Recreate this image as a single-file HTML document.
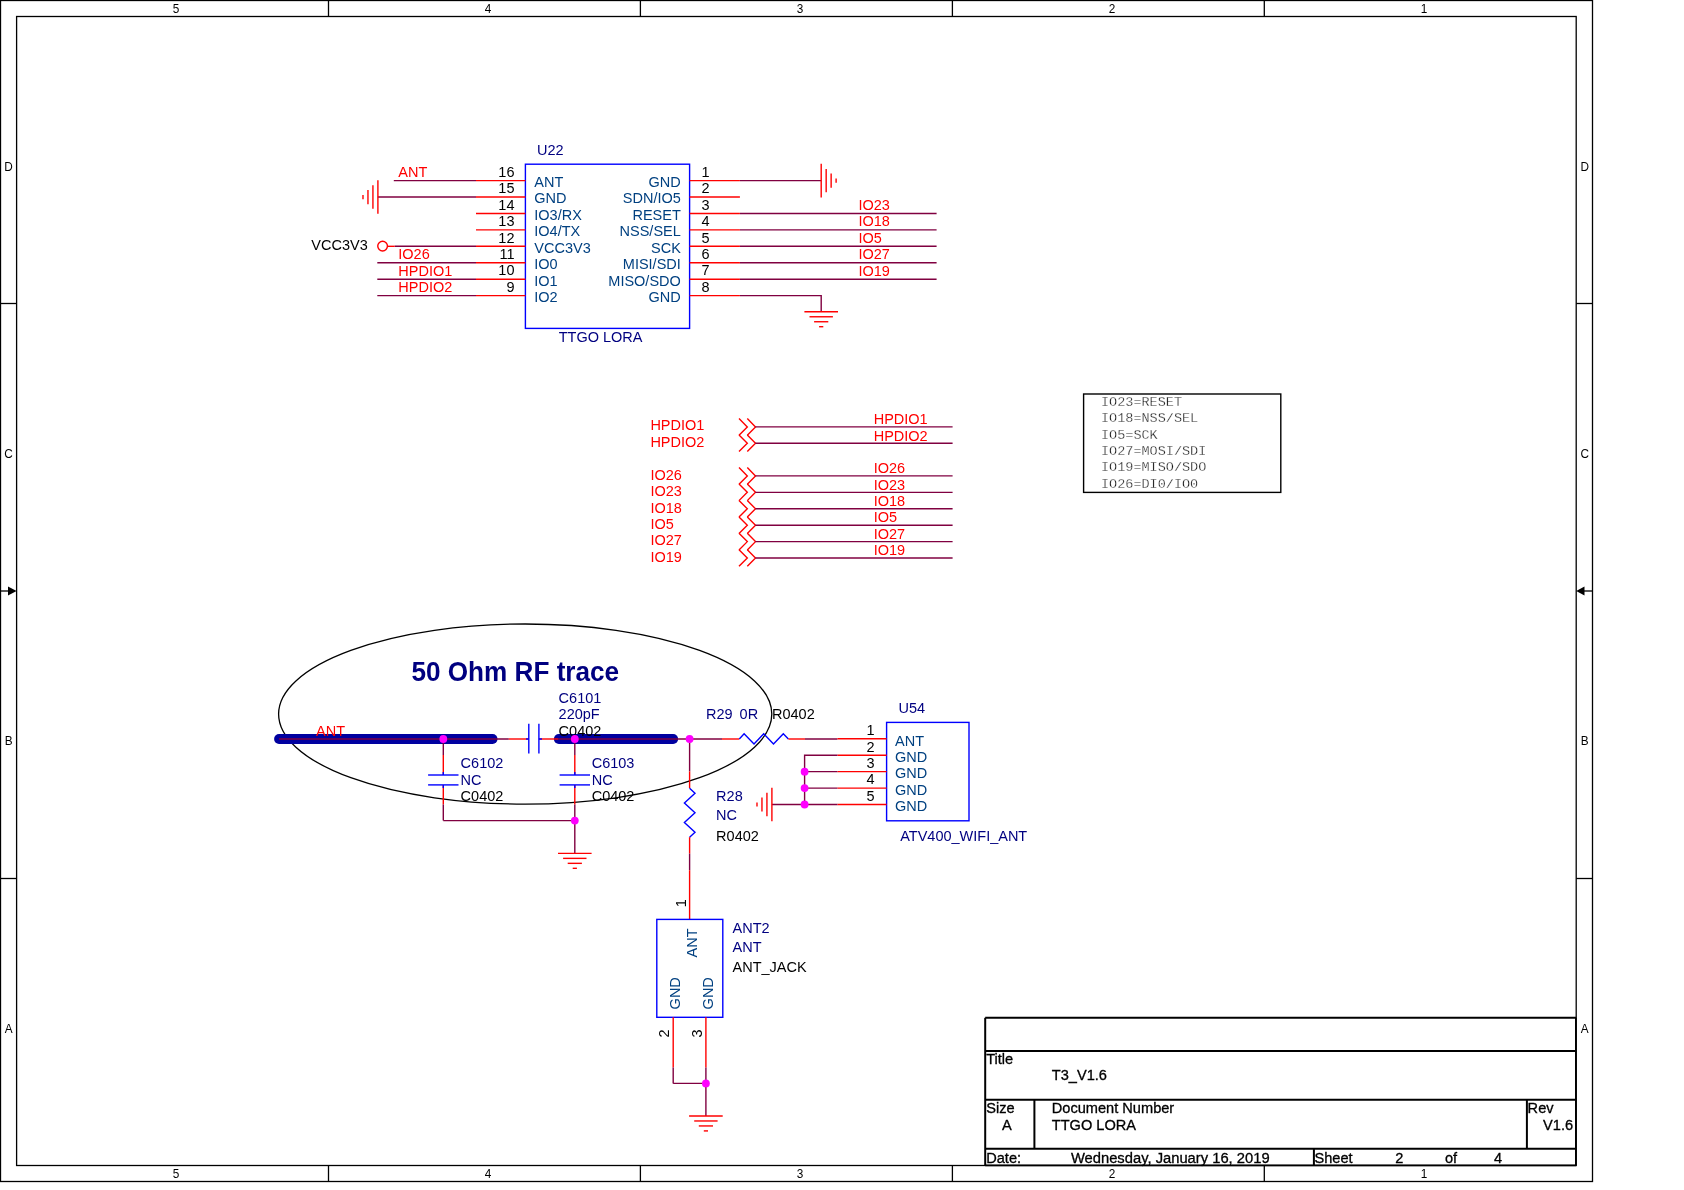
<!DOCTYPE html>
<html><head><meta charset="utf-8"><title>T3_V1.6 schematic</title>
<style>
html,body{margin:0;padding:0;background:#fff;width:1684px;height:1190px;overflow:hidden}
svg{display:block;will-change:transform}
</style></head><body>
<svg width="1684" height="1190" viewBox="0 0 1684 1190">
<rect x="0" y="0" width="1684" height="1190" fill="#fff"/>
<rect x="0.5" y="0.5" width="1592" height="1181" stroke="#000" stroke-width="1.3" fill="none"/>
<rect x="16.6" y="16.5" width="1559.6" height="1149" stroke="#000" stroke-width="1.3" fill="none"/>
<line x1="328.50" y1="0.00" x2="328.50" y2="16.50" stroke="#000000" stroke-width="1.3"/>
<line x1="328.50" y1="1165.50" x2="328.50" y2="1181.50" stroke="#000000" stroke-width="1.3"/>
<line x1="640.40" y1="0.00" x2="640.40" y2="16.50" stroke="#000000" stroke-width="1.3"/>
<line x1="640.40" y1="1165.50" x2="640.40" y2="1181.50" stroke="#000000" stroke-width="1.3"/>
<line x1="952.40" y1="0.00" x2="952.40" y2="16.50" stroke="#000000" stroke-width="1.3"/>
<line x1="952.40" y1="1165.50" x2="952.40" y2="1181.50" stroke="#000000" stroke-width="1.3"/>
<line x1="1264.30" y1="0.00" x2="1264.30" y2="16.50" stroke="#000000" stroke-width="1.3"/>
<line x1="1264.30" y1="1165.50" x2="1264.30" y2="1181.50" stroke="#000000" stroke-width="1.3"/>
<line x1="0.00" y1="303.50" x2="16.60" y2="303.50" stroke="#000000" stroke-width="1.3"/>
<line x1="1576.20" y1="303.50" x2="1592.50" y2="303.50" stroke="#000000" stroke-width="1.3"/>
<line x1="0.00" y1="878.50" x2="16.60" y2="878.50" stroke="#000000" stroke-width="1.3"/>
<line x1="1576.20" y1="878.50" x2="1592.50" y2="878.50" stroke="#000000" stroke-width="1.3"/>
<line x1="0.00" y1="591.00" x2="9.00" y2="591.00" stroke="#000000" stroke-width="1.3"/>
<polygon points="8,586.5 16.6,591 8,595.5" fill="#000"/>
<line x1="1584.00" y1="591.00" x2="1592.50" y2="591.00" stroke="#000000" stroke-width="1.3"/>
<polygon points="1584.5,586.5 1576.2,591 1584.5,595.5" fill="#000"/>
<text transform="translate(176.00,12.80) scale(1,1.06)" fill="#000000" font-size="11.8" text-anchor="middle" style='font-family:"Liberation Sans", sans-serif'>5</text>
<text transform="translate(176.00,1177.80) scale(1,1.06)" fill="#000000" font-size="11.8" text-anchor="middle" style='font-family:"Liberation Sans", sans-serif'>5</text>
<text transform="translate(488.00,12.80) scale(1,1.06)" fill="#000000" font-size="11.8" text-anchor="middle" style='font-family:"Liberation Sans", sans-serif'>4</text>
<text transform="translate(488.00,1177.80) scale(1,1.06)" fill="#000000" font-size="11.8" text-anchor="middle" style='font-family:"Liberation Sans", sans-serif'>4</text>
<text transform="translate(800.00,12.80) scale(1,1.06)" fill="#000000" font-size="11.8" text-anchor="middle" style='font-family:"Liberation Sans", sans-serif'>3</text>
<text transform="translate(800.00,1177.80) scale(1,1.06)" fill="#000000" font-size="11.8" text-anchor="middle" style='font-family:"Liberation Sans", sans-serif'>3</text>
<text transform="translate(1112.00,12.80) scale(1,1.06)" fill="#000000" font-size="11.8" text-anchor="middle" style='font-family:"Liberation Sans", sans-serif'>2</text>
<text transform="translate(1112.00,1177.80) scale(1,1.06)" fill="#000000" font-size="11.8" text-anchor="middle" style='font-family:"Liberation Sans", sans-serif'>2</text>
<text transform="translate(1424.00,12.80) scale(1,1.06)" fill="#000000" font-size="11.8" text-anchor="middle" style='font-family:"Liberation Sans", sans-serif'>1</text>
<text transform="translate(1424.00,1177.80) scale(1,1.06)" fill="#000000" font-size="11.8" text-anchor="middle" style='font-family:"Liberation Sans", sans-serif'>1</text>
<text transform="translate(8.60,170.80) scale(1,1.06)" fill="#000000" font-size="11.8" text-anchor="middle" style='font-family:"Liberation Sans", sans-serif'>D</text>
<text transform="translate(1584.80,170.80) scale(1,1.06)" fill="#000000" font-size="11.8" text-anchor="middle" style='font-family:"Liberation Sans", sans-serif'>D</text>
<text transform="translate(8.60,457.60) scale(1,1.06)" fill="#000000" font-size="11.8" text-anchor="middle" style='font-family:"Liberation Sans", sans-serif'>C</text>
<text transform="translate(1584.80,457.60) scale(1,1.06)" fill="#000000" font-size="11.8" text-anchor="middle" style='font-family:"Liberation Sans", sans-serif'>C</text>
<text transform="translate(8.60,744.80) scale(1,1.06)" fill="#000000" font-size="11.8" text-anchor="middle" style='font-family:"Liberation Sans", sans-serif'>B</text>
<text transform="translate(1584.80,744.80) scale(1,1.06)" fill="#000000" font-size="11.8" text-anchor="middle" style='font-family:"Liberation Sans", sans-serif'>B</text>
<text transform="translate(8.60,1032.80) scale(1,1.06)" fill="#000000" font-size="11.8" text-anchor="middle" style='font-family:"Liberation Sans", sans-serif'>A</text>
<text transform="translate(1584.80,1032.80) scale(1,1.06)" fill="#000000" font-size="11.8" text-anchor="middle" style='font-family:"Liberation Sans", sans-serif'>A</text>
<rect x="525.40" y="164.20" width="164.20" height="164.20" stroke="#0000ff" stroke-width="1.4" fill="none"/>
<text transform="translate(537.00,155.10) scale(1,1.06)" fill="#000080" font-size="14.5" text-anchor="start" style='font-family:"Liberation Sans", sans-serif'>U22</text>
<text transform="translate(558.70,341.60) scale(1,1.06)" fill="#000080" font-size="14.5" text-anchor="start" style='font-family:"Liberation Sans", sans-serif'>TTGO LORA</text>
<line x1="476.00" y1="180.60" x2="525.40" y2="180.60" stroke="#ff0000" stroke-width="1.4"/>
<line x1="689.60" y1="180.60" x2="739.90" y2="180.60" stroke="#ff0000" stroke-width="1.4"/>
<text transform="translate(514.50,176.80) scale(1,1.06)" fill="#000000" font-size="14.5" text-anchor="end" style='font-family:"Liberation Sans", sans-serif'>16</text>
<text transform="translate(701.50,176.80) scale(1,1.06)" fill="#000000" font-size="14.5" text-anchor="start" style='font-family:"Liberation Sans", sans-serif'>1</text>
<text transform="translate(534.30,187.00) scale(1,1.06)" fill="#004080" font-size="14.5" text-anchor="start" style='font-family:"Liberation Sans", sans-serif'>ANT</text>
<text transform="translate(680.80,187.00) scale(1,1.06)" fill="#004080" font-size="14.5" text-anchor="end" style='font-family:"Liberation Sans", sans-serif'>GND</text>
<line x1="476.00" y1="197.03" x2="525.40" y2="197.03" stroke="#ff0000" stroke-width="1.4"/>
<line x1="689.60" y1="197.03" x2="739.90" y2="197.03" stroke="#ff0000" stroke-width="1.4"/>
<text transform="translate(514.50,193.23) scale(1,1.06)" fill="#000000" font-size="14.5" text-anchor="end" style='font-family:"Liberation Sans", sans-serif'>15</text>
<text transform="translate(701.50,193.23) scale(1,1.06)" fill="#000000" font-size="14.5" text-anchor="start" style='font-family:"Liberation Sans", sans-serif'>2</text>
<text transform="translate(534.30,203.43) scale(1,1.06)" fill="#004080" font-size="14.5" text-anchor="start" style='font-family:"Liberation Sans", sans-serif'>GND</text>
<text transform="translate(680.80,203.43) scale(1,1.06)" fill="#004080" font-size="14.5" text-anchor="end" style='font-family:"Liberation Sans", sans-serif'>SDN/IO5</text>
<line x1="476.00" y1="213.46" x2="525.40" y2="213.46" stroke="#ff0000" stroke-width="1.4"/>
<line x1="689.60" y1="213.46" x2="739.90" y2="213.46" stroke="#ff0000" stroke-width="1.4"/>
<text transform="translate(514.50,209.66) scale(1,1.06)" fill="#000000" font-size="14.5" text-anchor="end" style='font-family:"Liberation Sans", sans-serif'>14</text>
<text transform="translate(701.50,209.66) scale(1,1.06)" fill="#000000" font-size="14.5" text-anchor="start" style='font-family:"Liberation Sans", sans-serif'>3</text>
<text transform="translate(534.30,219.86) scale(1,1.06)" fill="#004080" font-size="14.5" text-anchor="start" style='font-family:"Liberation Sans", sans-serif'>IO3/RX</text>
<text transform="translate(680.80,219.86) scale(1,1.06)" fill="#004080" font-size="14.5" text-anchor="end" style='font-family:"Liberation Sans", sans-serif'>RESET</text>
<line x1="476.00" y1="229.89" x2="525.40" y2="229.89" stroke="#ff0000" stroke-width="1.4"/>
<line x1="689.60" y1="229.89" x2="739.90" y2="229.89" stroke="#ff0000" stroke-width="1.4"/>
<text transform="translate(514.50,226.09) scale(1,1.06)" fill="#000000" font-size="14.5" text-anchor="end" style='font-family:"Liberation Sans", sans-serif'>13</text>
<text transform="translate(701.50,226.09) scale(1,1.06)" fill="#000000" font-size="14.5" text-anchor="start" style='font-family:"Liberation Sans", sans-serif'>4</text>
<text transform="translate(534.30,236.29) scale(1,1.06)" fill="#004080" font-size="14.5" text-anchor="start" style='font-family:"Liberation Sans", sans-serif'>IO4/TX</text>
<text transform="translate(680.80,236.29) scale(1,1.06)" fill="#004080" font-size="14.5" text-anchor="end" style='font-family:"Liberation Sans", sans-serif'>NSS/SEL</text>
<line x1="476.00" y1="246.32" x2="525.40" y2="246.32" stroke="#ff0000" stroke-width="1.4"/>
<line x1="689.60" y1="246.32" x2="739.90" y2="246.32" stroke="#ff0000" stroke-width="1.4"/>
<text transform="translate(514.50,242.52) scale(1,1.06)" fill="#000000" font-size="14.5" text-anchor="end" style='font-family:"Liberation Sans", sans-serif'>12</text>
<text transform="translate(701.50,242.52) scale(1,1.06)" fill="#000000" font-size="14.5" text-anchor="start" style='font-family:"Liberation Sans", sans-serif'>5</text>
<text transform="translate(534.30,252.72) scale(1,1.06)" fill="#004080" font-size="14.5" text-anchor="start" style='font-family:"Liberation Sans", sans-serif'>VCC3V3</text>
<text transform="translate(680.80,252.72) scale(1,1.06)" fill="#004080" font-size="14.5" text-anchor="end" style='font-family:"Liberation Sans", sans-serif'>SCK</text>
<line x1="476.00" y1="262.75" x2="525.40" y2="262.75" stroke="#ff0000" stroke-width="1.4"/>
<line x1="689.60" y1="262.75" x2="739.90" y2="262.75" stroke="#ff0000" stroke-width="1.4"/>
<text transform="translate(514.50,258.95) scale(1,1.06)" fill="#000000" font-size="14.5" text-anchor="end" style='font-family:"Liberation Sans", sans-serif'>11</text>
<text transform="translate(701.50,258.95) scale(1,1.06)" fill="#000000" font-size="14.5" text-anchor="start" style='font-family:"Liberation Sans", sans-serif'>6</text>
<text transform="translate(534.30,269.15) scale(1,1.06)" fill="#004080" font-size="14.5" text-anchor="start" style='font-family:"Liberation Sans", sans-serif'>IO0</text>
<text transform="translate(680.80,269.15) scale(1,1.06)" fill="#004080" font-size="14.5" text-anchor="end" style='font-family:"Liberation Sans", sans-serif'>MISI/SDI</text>
<line x1="476.00" y1="279.18" x2="525.40" y2="279.18" stroke="#ff0000" stroke-width="1.4"/>
<line x1="689.60" y1="279.18" x2="739.90" y2="279.18" stroke="#ff0000" stroke-width="1.4"/>
<text transform="translate(514.50,275.38) scale(1,1.06)" fill="#000000" font-size="14.5" text-anchor="end" style='font-family:"Liberation Sans", sans-serif'>10</text>
<text transform="translate(701.50,275.38) scale(1,1.06)" fill="#000000" font-size="14.5" text-anchor="start" style='font-family:"Liberation Sans", sans-serif'>7</text>
<text transform="translate(534.30,285.58) scale(1,1.06)" fill="#004080" font-size="14.5" text-anchor="start" style='font-family:"Liberation Sans", sans-serif'>IO1</text>
<text transform="translate(680.80,285.58) scale(1,1.06)" fill="#004080" font-size="14.5" text-anchor="end" style='font-family:"Liberation Sans", sans-serif'>MISO/SDO</text>
<line x1="476.00" y1="295.61" x2="525.40" y2="295.61" stroke="#ff0000" stroke-width="1.4"/>
<line x1="689.60" y1="295.61" x2="739.90" y2="295.61" stroke="#ff0000" stroke-width="1.4"/>
<text transform="translate(514.50,291.81) scale(1,1.06)" fill="#000000" font-size="14.5" text-anchor="end" style='font-family:"Liberation Sans", sans-serif'>9</text>
<text transform="translate(701.50,291.81) scale(1,1.06)" fill="#000000" font-size="14.5" text-anchor="start" style='font-family:"Liberation Sans", sans-serif'>8</text>
<text transform="translate(534.30,302.01) scale(1,1.06)" fill="#004080" font-size="14.5" text-anchor="start" style='font-family:"Liberation Sans", sans-serif'>IO2</text>
<text transform="translate(680.80,302.01) scale(1,1.06)" fill="#004080" font-size="14.5" text-anchor="end" style='font-family:"Liberation Sans", sans-serif'>GND</text>
<line x1="393.80" y1="180.60" x2="476.00" y2="180.60" stroke="#800040" stroke-width="1.4"/>
<text transform="translate(398.30,177.40) scale(1,1.06)" fill="#ff0000" font-size="14.5" text-anchor="start" style='font-family:"Liberation Sans", sans-serif'>ANT</text>
<line x1="377.80" y1="197.03" x2="476.00" y2="197.03" stroke="#800040" stroke-width="1.4"/>
<line x1="377.90" y1="180.23" x2="377.90" y2="213.83" stroke="#ff0000" stroke-width="1.4"/>
<line x1="372.93" y1="185.33" x2="372.93" y2="208.73" stroke="#ff0000" stroke-width="1.4"/>
<line x1="367.96" y1="189.93" x2="367.96" y2="204.13" stroke="#ff0000" stroke-width="1.4"/>
<line x1="362.99" y1="194.93" x2="362.99" y2="199.13" stroke="#ff0000" stroke-width="1.4"/>
<line x1="394.80" y1="246.32" x2="476.00" y2="246.32" stroke="#800040" stroke-width="1.4"/>
<line x1="387.40" y1="246.32" x2="394.80" y2="246.32" stroke="#ff0000" stroke-width="1.4"/>
<circle cx="382.6" cy="246.1" r="4.85" stroke="#ff0000" stroke-width="1.4" fill="none"/>
<text transform="translate(311.30,250.40) scale(1,1.06)" fill="#000000" font-size="14.5" text-anchor="start" style='font-family:"Liberation Sans", sans-serif'>VCC3V3</text>
<line x1="377.30" y1="262.75" x2="476.00" y2="262.75" stroke="#800040" stroke-width="1.4"/>
<text transform="translate(398.30,259.35) scale(1,1.06)" fill="#ff0000" font-size="14.5" text-anchor="start" style='font-family:"Liberation Sans", sans-serif'>IO26</text>
<line x1="377.30" y1="279.18" x2="476.00" y2="279.18" stroke="#800040" stroke-width="1.4"/>
<text transform="translate(398.30,275.78) scale(1,1.06)" fill="#ff0000" font-size="14.5" text-anchor="start" style='font-family:"Liberation Sans", sans-serif'>HPDIO1</text>
<line x1="377.30" y1="295.61" x2="476.00" y2="295.61" stroke="#800040" stroke-width="1.4"/>
<text transform="translate(398.30,292.21) scale(1,1.06)" fill="#ff0000" font-size="14.5" text-anchor="start" style='font-family:"Liberation Sans", sans-serif'>HPDIO2</text>
<line x1="739.90" y1="180.60" x2="821.20" y2="180.60" stroke="#800040" stroke-width="1.4"/>
<line x1="821.20" y1="163.80" x2="821.20" y2="197.40" stroke="#ff0000" stroke-width="1.4"/>
<line x1="826.17" y1="168.90" x2="826.17" y2="192.30" stroke="#ff0000" stroke-width="1.4"/>
<line x1="831.14" y1="173.50" x2="831.14" y2="187.70" stroke="#ff0000" stroke-width="1.4"/>
<line x1="836.11" y1="178.50" x2="836.11" y2="182.70" stroke="#ff0000" stroke-width="1.4"/>
<line x1="739.90" y1="213.46" x2="936.60" y2="213.46" stroke="#800040" stroke-width="1.4"/>
<text transform="translate(858.50,209.86) scale(1,1.06)" fill="#ff0000" font-size="14.5" text-anchor="start" style='font-family:"Liberation Sans", sans-serif'>IO23</text>
<line x1="739.90" y1="229.89" x2="936.60" y2="229.89" stroke="#800040" stroke-width="1.4"/>
<text transform="translate(858.50,226.29) scale(1,1.06)" fill="#ff0000" font-size="14.5" text-anchor="start" style='font-family:"Liberation Sans", sans-serif'>IO18</text>
<line x1="739.90" y1="246.32" x2="936.60" y2="246.32" stroke="#800040" stroke-width="1.4"/>
<text transform="translate(858.50,242.72) scale(1,1.06)" fill="#ff0000" font-size="14.5" text-anchor="start" style='font-family:"Liberation Sans", sans-serif'>IO5</text>
<line x1="739.90" y1="262.75" x2="936.60" y2="262.75" stroke="#800040" stroke-width="1.4"/>
<text transform="translate(858.50,259.15) scale(1,1.06)" fill="#ff0000" font-size="14.5" text-anchor="start" style='font-family:"Liberation Sans", sans-serif'>IO27</text>
<line x1="739.90" y1="279.18" x2="936.60" y2="279.18" stroke="#800040" stroke-width="1.4"/>
<text transform="translate(858.50,275.58) scale(1,1.06)" fill="#ff0000" font-size="14.5" text-anchor="start" style='font-family:"Liberation Sans", sans-serif'>IO19</text>
<polyline points="739.90,295.61 821.20,295.61 821.20,311.80" stroke="#800040" stroke-width="1.4" fill="none"/>
<line x1="804.40" y1="311.80" x2="838.00" y2="311.80" stroke="#ff0000" stroke-width="1.4"/>
<line x1="809.50" y1="316.77" x2="832.90" y2="316.77" stroke="#ff0000" stroke-width="1.4"/>
<line x1="814.10" y1="321.74" x2="828.30" y2="321.74" stroke="#ff0000" stroke-width="1.4"/>
<line x1="819.10" y1="326.71" x2="823.30" y2="326.71" stroke="#ff0000" stroke-width="1.4"/>
<polyline points="739.00,418.60 747.30,426.90 739.00,435.20" stroke="#ff0000" stroke-width="1.4" fill="none"/>
<polyline points="747.30,418.60 755.50,426.90 747.30,435.20" stroke="#ff0000" stroke-width="1.4" fill="none"/>
<line x1="755.40" y1="426.90" x2="952.60" y2="426.90" stroke="#800040" stroke-width="1.4"/>
<text transform="translate(650.40,430.40) scale(1,1.06)" fill="#ff0000" font-size="14.5" text-anchor="start" style='font-family:"Liberation Sans", sans-serif'>HPDIO1</text>
<text transform="translate(873.70,424.20) scale(1,1.06)" fill="#ff0000" font-size="14.5" text-anchor="start" style='font-family:"Liberation Sans", sans-serif'>HPDIO1</text>
<polyline points="739.00,435.00 747.30,443.30 739.00,451.60" stroke="#ff0000" stroke-width="1.4" fill="none"/>
<polyline points="747.30,435.00 755.50,443.30 747.30,451.60" stroke="#ff0000" stroke-width="1.4" fill="none"/>
<line x1="755.40" y1="443.30" x2="952.60" y2="443.30" stroke="#800040" stroke-width="1.4"/>
<text transform="translate(650.40,446.80) scale(1,1.06)" fill="#ff0000" font-size="14.5" text-anchor="start" style='font-family:"Liberation Sans", sans-serif'>HPDIO2</text>
<text transform="translate(873.70,440.60) scale(1,1.06)" fill="#ff0000" font-size="14.5" text-anchor="start" style='font-family:"Liberation Sans", sans-serif'>HPDIO2</text>
<polyline points="739.00,467.60 747.30,475.90 739.00,484.20" stroke="#ff0000" stroke-width="1.4" fill="none"/>
<polyline points="747.30,467.60 755.50,475.90 747.30,484.20" stroke="#ff0000" stroke-width="1.4" fill="none"/>
<line x1="755.40" y1="475.90" x2="952.60" y2="475.90" stroke="#800040" stroke-width="1.4"/>
<text transform="translate(650.40,479.70) scale(1,1.06)" fill="#ff0000" font-size="14.5" text-anchor="start" style='font-family:"Liberation Sans", sans-serif'>IO26</text>
<text transform="translate(873.70,473.10) scale(1,1.06)" fill="#ff0000" font-size="14.5" text-anchor="start" style='font-family:"Liberation Sans", sans-serif'>IO26</text>
<polyline points="739.00,484.03 747.30,492.33 739.00,500.63" stroke="#ff0000" stroke-width="1.4" fill="none"/>
<polyline points="747.30,484.03 755.50,492.33 747.30,500.63" stroke="#ff0000" stroke-width="1.4" fill="none"/>
<line x1="755.40" y1="492.33" x2="952.60" y2="492.33" stroke="#800040" stroke-width="1.4"/>
<text transform="translate(650.40,496.13) scale(1,1.06)" fill="#ff0000" font-size="14.5" text-anchor="start" style='font-family:"Liberation Sans", sans-serif'>IO23</text>
<text transform="translate(873.70,489.53) scale(1,1.06)" fill="#ff0000" font-size="14.5" text-anchor="start" style='font-family:"Liberation Sans", sans-serif'>IO23</text>
<polyline points="739.00,500.46 747.30,508.76 739.00,517.06" stroke="#ff0000" stroke-width="1.4" fill="none"/>
<polyline points="747.30,500.46 755.50,508.76 747.30,517.06" stroke="#ff0000" stroke-width="1.4" fill="none"/>
<line x1="755.40" y1="508.76" x2="952.60" y2="508.76" stroke="#800040" stroke-width="1.4"/>
<text transform="translate(650.40,512.56) scale(1,1.06)" fill="#ff0000" font-size="14.5" text-anchor="start" style='font-family:"Liberation Sans", sans-serif'>IO18</text>
<text transform="translate(873.70,505.96) scale(1,1.06)" fill="#ff0000" font-size="14.5" text-anchor="start" style='font-family:"Liberation Sans", sans-serif'>IO18</text>
<polyline points="739.00,516.89 747.30,525.19 739.00,533.49" stroke="#ff0000" stroke-width="1.4" fill="none"/>
<polyline points="747.30,516.89 755.50,525.19 747.30,533.49" stroke="#ff0000" stroke-width="1.4" fill="none"/>
<line x1="755.40" y1="525.19" x2="952.60" y2="525.19" stroke="#800040" stroke-width="1.4"/>
<text transform="translate(650.40,528.99) scale(1,1.06)" fill="#ff0000" font-size="14.5" text-anchor="start" style='font-family:"Liberation Sans", sans-serif'>IO5</text>
<text transform="translate(873.70,522.39) scale(1,1.06)" fill="#ff0000" font-size="14.5" text-anchor="start" style='font-family:"Liberation Sans", sans-serif'>IO5</text>
<polyline points="739.00,533.32 747.30,541.62 739.00,549.92" stroke="#ff0000" stroke-width="1.4" fill="none"/>
<polyline points="747.30,533.32 755.50,541.62 747.30,549.92" stroke="#ff0000" stroke-width="1.4" fill="none"/>
<line x1="755.40" y1="541.62" x2="952.60" y2="541.62" stroke="#800040" stroke-width="1.4"/>
<text transform="translate(650.40,545.42) scale(1,1.06)" fill="#ff0000" font-size="14.5" text-anchor="start" style='font-family:"Liberation Sans", sans-serif'>IO27</text>
<text transform="translate(873.70,538.82) scale(1,1.06)" fill="#ff0000" font-size="14.5" text-anchor="start" style='font-family:"Liberation Sans", sans-serif'>IO27</text>
<polyline points="739.00,549.75 747.30,558.05 739.00,566.35" stroke="#ff0000" stroke-width="1.4" fill="none"/>
<polyline points="747.30,549.75 755.50,558.05 747.30,566.35" stroke="#ff0000" stroke-width="1.4" fill="none"/>
<line x1="755.40" y1="558.05" x2="952.60" y2="558.05" stroke="#800040" stroke-width="1.4"/>
<text transform="translate(650.40,561.85) scale(1,1.06)" fill="#ff0000" font-size="14.5" text-anchor="start" style='font-family:"Liberation Sans", sans-serif'>IO19</text>
<text transform="translate(873.70,555.25) scale(1,1.06)" fill="#ff0000" font-size="14.5" text-anchor="start" style='font-family:"Liberation Sans", sans-serif'>IO19</text>
<rect x="1083.60" y="394.00" width="197.20" height="98.40" stroke="#000000" stroke-width="1.4" fill="none"/>
<text transform="translate(1101.00,405.80) scale(1,1.0)" fill="#111" font-size="13.5" text-anchor="start" style='font-family:"Liberation Mono", monospace' stroke="#fff" stroke-width="0.3">IO23=RESET</text>
<text transform="translate(1101.00,422.15) scale(1,1.0)" fill="#111" font-size="13.5" text-anchor="start" style='font-family:"Liberation Mono", monospace' stroke="#fff" stroke-width="0.3">IO18=NSS/SEL</text>
<text transform="translate(1101.00,438.50) scale(1,1.0)" fill="#111" font-size="13.5" text-anchor="start" style='font-family:"Liberation Mono", monospace' stroke="#fff" stroke-width="0.3">IO5=SCK</text>
<text transform="translate(1101.00,454.85) scale(1,1.0)" fill="#111" font-size="13.5" text-anchor="start" style='font-family:"Liberation Mono", monospace' stroke="#fff" stroke-width="0.3">IO27=MOSI/SDI</text>
<text transform="translate(1101.00,471.20) scale(1,1.0)" fill="#111" font-size="13.5" text-anchor="start" style='font-family:"Liberation Mono", monospace' stroke="#fff" stroke-width="0.3">IO19=MISO/SDO</text>
<text transform="translate(1101.00,487.55) scale(1,1.0)" fill="#111" font-size="13.5" text-anchor="start" style='font-family:"Liberation Mono", monospace' stroke="#fff" stroke-width="0.3">IO26=DI0/IO0</text>
<ellipse cx="525.2" cy="714.05" rx="246.6" ry="90.05" stroke="#000" stroke-width="1.3" fill="none"/>
<text transform="translate(411.40,680.60) scale(1,1.06)" fill="#000080" font-size="26.15" text-anchor="start" style='font-family:"Liberation Sans", sans-serif' font-weight="bold">50 Ohm RF trace</text>
<line x1="279.00" y1="739.00" x2="492.60" y2="739.00" stroke="#0000a0" stroke-width="9.8" stroke-linecap="round"/>
<line x1="558.80" y1="739.00" x2="673.20" y2="739.00" stroke="#0000a0" stroke-width="9.8" stroke-linecap="round"/>
<line x1="279.00" y1="739.00" x2="508.80" y2="739.00" stroke="#800040" stroke-width="1.4"/>
<line x1="508.80" y1="739.00" x2="528.80" y2="739.00" stroke="#ff0000" stroke-width="1.4"/>
<line x1="538.90" y1="739.00" x2="558.40" y2="739.00" stroke="#ff0000" stroke-width="1.4"/>
<line x1="558.40" y1="739.00" x2="722.00" y2="739.00" stroke="#800040" stroke-width="1.4"/>
<line x1="722.00" y1="739.00" x2="739.20" y2="739.00" stroke="#ff0000" stroke-width="1.4"/>
<line x1="528.80" y1="723.80" x2="528.80" y2="753.60" stroke="#0000ff" stroke-width="1.4"/>
<line x1="538.90" y1="723.80" x2="538.90" y2="753.60" stroke="#0000ff" stroke-width="1.4"/>
<line x1="526.00" y1="739.00" x2="528.80" y2="739.00" stroke="#0000ff" stroke-width="1.4"/>
<line x1="538.90" y1="739.00" x2="542.00" y2="739.00" stroke="#0000ff" stroke-width="1.4"/>
<text transform="translate(316.00,736.30) scale(1,1.06)" fill="#ff0000" font-size="14.5" text-anchor="start" style='font-family:"Liberation Sans", sans-serif'>ANT</text>
<text transform="translate(558.60,703.10) scale(1,1.06)" fill="#000080" font-size="14.5" text-anchor="start" style='font-family:"Liberation Sans", sans-serif'>C6101</text>
<text transform="translate(558.60,719.20) scale(1,1.06)" fill="#000080" font-size="14.5" text-anchor="start" style='font-family:"Liberation Sans", sans-serif'>220pF</text>
<text transform="translate(558.60,735.60) scale(1,1.06)" fill="#000000" font-size="14.5" text-anchor="start" style='font-family:"Liberation Sans", sans-serif'>C0402</text>
<polyline points="739.30,739.00 744.10,733.80 754.00,744.00 763.70,733.80 773.50,744.00 783.30,733.80 788.40,739.00" stroke="#0000ff" stroke-width="1.4" fill="none"/>
<line x1="788.40" y1="739.00" x2="805.00" y2="739.00" stroke="#ff0000" stroke-width="1.4"/>
<line x1="805.00" y1="739.00" x2="837.40" y2="739.00" stroke="#800040" stroke-width="1.4"/>
<text transform="translate(706.00,719.20) scale(1,1.06)" fill="#000080" font-size="14.5" text-anchor="start" style='font-family:"Liberation Sans", sans-serif'>R29</text>
<text transform="translate(739.60,719.20) scale(1,1.06)" fill="#000080" font-size="14.5" text-anchor="start" style='font-family:"Liberation Sans", sans-serif'>0R</text>
<text transform="translate(772.00,719.20) scale(1,1.06)" fill="#000000" font-size="14.5" text-anchor="start" style='font-family:"Liberation Sans", sans-serif'>R0402</text>
<line x1="443.30" y1="739.00" x2="443.30" y2="755.00" stroke="#800040" stroke-width="1.4"/>
<line x1="443.30" y1="755.00" x2="443.30" y2="775.00" stroke="#ff0000" stroke-width="1.4"/>
<line x1="428.10" y1="775.00" x2="458.50" y2="775.00" stroke="#0000ff" stroke-width="1.4"/>
<line x1="428.10" y1="784.90" x2="458.50" y2="784.90" stroke="#0000ff" stroke-width="1.4"/>
<line x1="443.30" y1="784.90" x2="443.30" y2="804.60" stroke="#ff0000" stroke-width="1.4"/>
<line x1="443.30" y1="771.90" x2="443.30" y2="775.00" stroke="#0000ff" stroke-width="1.4"/>
<line x1="443.30" y1="784.90" x2="443.30" y2="788.00" stroke="#0000ff" stroke-width="1.4"/>
<line x1="443.30" y1="804.60" x2="443.30" y2="820.60" stroke="#800040" stroke-width="1.4"/>
<text transform="translate(460.60,768.40) scale(1,1.06)" fill="#000080" font-size="14.5" text-anchor="start" style='font-family:"Liberation Sans", sans-serif'>C6102</text>
<text transform="translate(460.60,785.10) scale(1,1.06)" fill="#000080" font-size="14.5" text-anchor="start" style='font-family:"Liberation Sans", sans-serif'>NC</text>
<text transform="translate(460.60,801.40) scale(1,1.06)" fill="#000000" font-size="14.5" text-anchor="start" style='font-family:"Liberation Sans", sans-serif'>C0402</text>
<line x1="574.80" y1="739.00" x2="574.80" y2="755.00" stroke="#800040" stroke-width="1.4"/>
<line x1="574.80" y1="755.00" x2="574.80" y2="775.00" stroke="#ff0000" stroke-width="1.4"/>
<line x1="559.60" y1="775.00" x2="590.00" y2="775.00" stroke="#0000ff" stroke-width="1.4"/>
<line x1="559.60" y1="784.90" x2="590.00" y2="784.90" stroke="#0000ff" stroke-width="1.4"/>
<line x1="574.80" y1="784.90" x2="574.80" y2="804.60" stroke="#ff0000" stroke-width="1.4"/>
<line x1="574.80" y1="771.90" x2="574.80" y2="775.00" stroke="#0000ff" stroke-width="1.4"/>
<line x1="574.80" y1="784.90" x2="574.80" y2="788.00" stroke="#0000ff" stroke-width="1.4"/>
<line x1="574.80" y1="804.60" x2="574.80" y2="820.60" stroke="#800040" stroke-width="1.4"/>
<text transform="translate(591.70,768.40) scale(1,1.06)" fill="#000080" font-size="14.5" text-anchor="start" style='font-family:"Liberation Sans", sans-serif'>C6103</text>
<text transform="translate(591.70,785.10) scale(1,1.06)" fill="#000080" font-size="14.5" text-anchor="start" style='font-family:"Liberation Sans", sans-serif'>NC</text>
<text transform="translate(591.70,801.40) scale(1,1.06)" fill="#000000" font-size="14.5" text-anchor="start" style='font-family:"Liberation Sans", sans-serif'>C0402</text>
<line x1="443.30" y1="820.60" x2="574.80" y2="820.60" stroke="#800040" stroke-width="1.4"/>
<line x1="574.80" y1="820.60" x2="574.80" y2="853.40" stroke="#800040" stroke-width="1.4"/>
<line x1="558.00" y1="853.40" x2="591.60" y2="853.40" stroke="#ff0000" stroke-width="1.4"/>
<line x1="563.10" y1="858.37" x2="586.50" y2="858.37" stroke="#ff0000" stroke-width="1.4"/>
<line x1="567.70" y1="863.34" x2="581.90" y2="863.34" stroke="#ff0000" stroke-width="1.4"/>
<line x1="572.70" y1="868.31" x2="576.90" y2="868.31" stroke="#ff0000" stroke-width="1.4"/>
<line x1="689.60" y1="739.00" x2="689.60" y2="771.40" stroke="#800040" stroke-width="1.4"/>
<line x1="689.60" y1="771.40" x2="689.60" y2="788.20" stroke="#ff0000" stroke-width="1.4"/>
<polyline points="689.60,788.20 695.00,793.20 684.40,803.00 695.00,812.80 684.40,822.60 695.00,832.20 689.60,837.20" stroke="#0000ff" stroke-width="1.4" fill="none"/>
<line x1="689.60" y1="837.20" x2="689.60" y2="853.60" stroke="#ff0000" stroke-width="1.4"/>
<line x1="689.60" y1="853.60" x2="689.60" y2="870.20" stroke="#800040" stroke-width="1.4"/>
<line x1="689.60" y1="870.20" x2="689.60" y2="919.40" stroke="#ff0000" stroke-width="1.4"/>
<text transform="translate(716.10,800.70) scale(1,1.06)" fill="#000080" font-size="14.5" text-anchor="start" style='font-family:"Liberation Sans", sans-serif'>R28</text>
<text transform="translate(716.10,820.40) scale(1,1.06)" fill="#000080" font-size="14.5" text-anchor="start" style='font-family:"Liberation Sans", sans-serif'>NC</text>
<text transform="translate(716.10,840.70) scale(1,1.06)" fill="#000000" font-size="14.5" text-anchor="start" style='font-family:"Liberation Sans", sans-serif'>R0402</text>
<circle cx="443.30" cy="739.00" r="3.9" fill="#ff00ff"/>
<circle cx="574.80" cy="739.00" r="3.9" fill="#ff00ff"/>
<circle cx="689.60" cy="739.00" r="3.9" fill="#ff00ff"/>
<circle cx="574.80" cy="820.60" r="3.9" fill="#ff00ff"/>
<rect x="886.60" y="722.40" width="82.40" height="98.40" stroke="#0000ff" stroke-width="1.4" fill="none"/>
<text transform="translate(898.50,713.00) scale(1,1.06)" fill="#000080" font-size="14.5" text-anchor="start" style='font-family:"Liberation Sans", sans-serif'>U54</text>
<text transform="translate(900.20,841.30) scale(1,1.06)" fill="#000080" font-size="14.5" text-anchor="start" style='font-family:"Liberation Sans", sans-serif'>ATV400_WIFI_ANT</text>
<line x1="837.40" y1="738.80" x2="886.60" y2="738.80" stroke="#ff0000" stroke-width="1.4"/>
<text transform="translate(874.60,735.20) scale(1,1.06)" fill="#000000" font-size="14.5" text-anchor="end" style='font-family:"Liberation Sans", sans-serif'>1</text>
<text transform="translate(895.00,745.60) scale(1,1.06)" fill="#004080" font-size="14.5" text-anchor="start" style='font-family:"Liberation Sans", sans-serif'>ANT</text>
<line x1="837.40" y1="755.23" x2="886.60" y2="755.23" stroke="#ff0000" stroke-width="1.4"/>
<text transform="translate(874.60,751.63) scale(1,1.06)" fill="#000000" font-size="14.5" text-anchor="end" style='font-family:"Liberation Sans", sans-serif'>2</text>
<text transform="translate(895.00,762.03) scale(1,1.06)" fill="#004080" font-size="14.5" text-anchor="start" style='font-family:"Liberation Sans", sans-serif'>GND</text>
<line x1="837.40" y1="771.66" x2="886.60" y2="771.66" stroke="#ff0000" stroke-width="1.4"/>
<text transform="translate(874.60,768.06) scale(1,1.06)" fill="#000000" font-size="14.5" text-anchor="end" style='font-family:"Liberation Sans", sans-serif'>3</text>
<text transform="translate(895.00,778.46) scale(1,1.06)" fill="#004080" font-size="14.5" text-anchor="start" style='font-family:"Liberation Sans", sans-serif'>GND</text>
<line x1="837.40" y1="788.09" x2="886.60" y2="788.09" stroke="#ff0000" stroke-width="1.4"/>
<text transform="translate(874.60,784.49) scale(1,1.06)" fill="#000000" font-size="14.5" text-anchor="end" style='font-family:"Liberation Sans", sans-serif'>4</text>
<text transform="translate(895.00,794.89) scale(1,1.06)" fill="#004080" font-size="14.5" text-anchor="start" style='font-family:"Liberation Sans", sans-serif'>GND</text>
<line x1="837.40" y1="804.52" x2="886.60" y2="804.52" stroke="#ff0000" stroke-width="1.4"/>
<text transform="translate(874.60,800.92) scale(1,1.06)" fill="#000000" font-size="14.5" text-anchor="end" style='font-family:"Liberation Sans", sans-serif'>5</text>
<text transform="translate(895.00,811.32) scale(1,1.06)" fill="#004080" font-size="14.5" text-anchor="start" style='font-family:"Liberation Sans", sans-serif'>GND</text>
<polyline points="837.40,755.23 804.60,755.23 804.60,804.52" stroke="#800040" stroke-width="1.4" fill="none"/>
<line x1="804.60" y1="771.66" x2="837.40" y2="771.66" stroke="#800040" stroke-width="1.4"/>
<line x1="804.60" y1="788.09" x2="837.40" y2="788.09" stroke="#800040" stroke-width="1.4"/>
<line x1="771.90" y1="804.52" x2="837.40" y2="804.52" stroke="#800040" stroke-width="1.4"/>
<circle cx="804.60" cy="771.66" r="3.9" fill="#ff00ff"/>
<circle cx="804.60" cy="788.09" r="3.9" fill="#ff00ff"/>
<circle cx="804.60" cy="804.52" r="3.9" fill="#ff00ff"/>
<line x1="771.90" y1="787.72" x2="771.90" y2="821.32" stroke="#ff0000" stroke-width="1.4"/>
<line x1="766.93" y1="792.82" x2="766.93" y2="816.22" stroke="#ff0000" stroke-width="1.4"/>
<line x1="761.96" y1="797.42" x2="761.96" y2="811.62" stroke="#ff0000" stroke-width="1.4"/>
<line x1="756.99" y1="802.42" x2="756.99" y2="806.62" stroke="#ff0000" stroke-width="1.4"/>
<rect x="656.80" y="919.40" width="66.00" height="97.90" stroke="#0000ff" stroke-width="1.4" fill="none"/>
<line x1="673.20" y1="1017.30" x2="673.20" y2="1067.60" stroke="#ff0000" stroke-width="1.4"/>
<line x1="673.20" y1="1067.60" x2="673.20" y2="1083.40" stroke="#800040" stroke-width="1.4"/>
<line x1="705.90" y1="1017.30" x2="705.90" y2="1067.60" stroke="#ff0000" stroke-width="1.4"/>
<line x1="705.90" y1="1067.60" x2="705.90" y2="1083.40" stroke="#800040" stroke-width="1.4"/>
<line x1="673.20" y1="1083.40" x2="705.90" y2="1083.40" stroke="#800040" stroke-width="1.4"/>
<line x1="705.90" y1="1083.40" x2="705.90" y2="1116.00" stroke="#800040" stroke-width="1.4"/>
<circle cx="705.90" cy="1083.40" r="3.9" fill="#ff00ff"/>
<line x1="689.10" y1="1116.00" x2="722.70" y2="1116.00" stroke="#ff0000" stroke-width="1.4"/>
<line x1="694.20" y1="1120.97" x2="717.60" y2="1120.97" stroke="#ff0000" stroke-width="1.4"/>
<line x1="698.80" y1="1125.94" x2="713.00" y2="1125.94" stroke="#ff0000" stroke-width="1.4"/>
<line x1="703.80" y1="1130.91" x2="708.00" y2="1130.91" stroke="#ff0000" stroke-width="1.4"/>
<text transform="translate(732.50,932.80) scale(1,1.06)" fill="#000080" font-size="14.5" text-anchor="start" style='font-family:"Liberation Sans", sans-serif'>ANT2</text>
<text transform="translate(732.50,952.30) scale(1,1.06)" fill="#000080" font-size="14.5" text-anchor="start" style='font-family:"Liberation Sans", sans-serif'>ANT</text>
<text transform="translate(732.50,972.10) scale(1,1.06)" fill="#000000" font-size="14.5" text-anchor="start" style='font-family:"Liberation Sans", sans-serif'>ANT_JACK</text>
<text transform="translate(686.00,907.20) rotate(-90) scale(1,1.06)" fill="#000000" font-size="14.5" text-anchor="start" style='font-family:"Liberation Sans", sans-serif'>1</text>
<text transform="translate(697.40,957.40) rotate(-90) scale(1,1.06)" fill="#004080" font-size="14.5" text-anchor="start" style='font-family:"Liberation Sans", sans-serif'>ANT</text>
<text transform="translate(679.60,1009.40) rotate(-90) scale(1,1.06)" fill="#004080" font-size="14.5" text-anchor="start" style='font-family:"Liberation Sans", sans-serif'>GND</text>
<text transform="translate(713.40,1009.40) rotate(-90) scale(1,1.06)" fill="#004080" font-size="14.5" text-anchor="start" style='font-family:"Liberation Sans", sans-serif'>GND</text>
<text transform="translate(669.40,1037.40) rotate(-90) scale(1,1.06)" fill="#000000" font-size="14.5" text-anchor="start" style='font-family:"Liberation Sans", sans-serif'>2</text>
<text transform="translate(702.40,1037.40) rotate(-90) scale(1,1.06)" fill="#000000" font-size="14.5" text-anchor="start" style='font-family:"Liberation Sans", sans-serif'>3</text>
<line x1="985.20" y1="1017.80" x2="1576.20" y2="1017.80" stroke="#000000" stroke-width="2.0"/>
<line x1="985.20" y1="1017.80" x2="985.20" y2="1165.50" stroke="#000000" stroke-width="2.0"/>
<line x1="985.20" y1="1050.90" x2="1576.20" y2="1050.90" stroke="#000000" stroke-width="2.0"/>
<line x1="985.20" y1="1099.80" x2="1576.20" y2="1099.80" stroke="#000000" stroke-width="2.0"/>
<line x1="985.20" y1="1148.70" x2="1576.20" y2="1148.70" stroke="#000000" stroke-width="2.0"/>
<line x1="1034.40" y1="1099.80" x2="1034.40" y2="1148.70" stroke="#000000" stroke-width="2.0"/>
<line x1="1526.90" y1="1099.80" x2="1526.90" y2="1148.70" stroke="#000000" stroke-width="2.0"/>
<line x1="1313.90" y1="1148.70" x2="1313.90" y2="1165.50" stroke="#000000" stroke-width="2.0"/>
<text transform="translate(986.20,1064.30) scale(1,1.06)" fill="#000000" font-size="14.6" text-anchor="start" style='font-family:"Liberation Sans", sans-serif' stroke="#000" stroke-width="0.3">Title</text>
<text transform="translate(1051.80,1080.10) scale(1,1.06)" fill="#000000" font-size="14.6" text-anchor="start" style='font-family:"Liberation Sans", sans-serif' stroke="#000" stroke-width="0.3">T3_V1.6</text>
<text transform="translate(986.20,1112.90) scale(1,1.06)" fill="#000000" font-size="14.6" text-anchor="start" style='font-family:"Liberation Sans", sans-serif' stroke="#000" stroke-width="0.3">Size</text>
<text transform="translate(1002.00,1129.90) scale(1,1.06)" fill="#000000" font-size="14.6" text-anchor="start" style='font-family:"Liberation Sans", sans-serif' stroke="#000" stroke-width="0.3">A</text>
<text transform="translate(1051.80,1112.90) scale(1,1.06)" fill="#000000" font-size="14.6" text-anchor="start" style='font-family:"Liberation Sans", sans-serif' stroke="#000" stroke-width="0.3">Document Number</text>
<text transform="translate(1051.80,1129.90) scale(1,1.06)" fill="#000000" font-size="14.6" text-anchor="start" style='font-family:"Liberation Sans", sans-serif' stroke="#000" stroke-width="0.3">TTGO LORA</text>
<text transform="translate(986.20,1163.10) scale(1,1.06)" fill="#000000" font-size="14.6" text-anchor="start" style='font-family:"Liberation Sans", sans-serif' stroke="#000" stroke-width="0.3">Date:</text>
<text transform="translate(1070.90,1163.10) scale(1,1.0)" fill="#000000" font-size="14.75" text-anchor="start" style='font-family:"Liberation Sans", sans-serif' stroke="#000" stroke-width="0.3">Wednesday, January 16, 2019</text>
<text transform="translate(1527.60,1113.10) scale(1,1.06)" fill="#000000" font-size="14.6" text-anchor="start" style='font-family:"Liberation Sans", sans-serif' stroke="#000" stroke-width="0.3">Rev</text>
<text transform="translate(1573.10,1130.20) scale(1,1.06)" fill="#000000" font-size="14.6" text-anchor="end" style='font-family:"Liberation Sans", sans-serif' stroke="#000" stroke-width="0.3">V1.6</text>
<text transform="translate(1314.50,1163.30) scale(1,1.06)" fill="#000000" font-size="14.6" text-anchor="start" style='font-family:"Liberation Sans", sans-serif' stroke="#000" stroke-width="0.3">Sheet</text>
<text transform="translate(1395.30,1163.30) scale(1,1.06)" fill="#000000" font-size="14.6" text-anchor="start" style='font-family:"Liberation Sans", sans-serif' stroke="#000" stroke-width="0.3">2</text>
<text transform="translate(1445.00,1163.30) scale(1,1.06)" fill="#000000" font-size="14.6" text-anchor="start" style='font-family:"Liberation Sans", sans-serif' stroke="#000" stroke-width="0.3">of</text>
<text transform="translate(1494.00,1163.30) scale(1,1.06)" fill="#000000" font-size="14.6" text-anchor="start" style='font-family:"Liberation Sans", sans-serif' stroke="#000" stroke-width="0.3">4</text>
<line x1="985.20" y1="1165.40" x2="1576.20" y2="1165.40" stroke="#000000" stroke-width="1.8"/>
<line x1="1575.90" y1="1017.80" x2="1575.90" y2="1165.40" stroke="#000000" stroke-width="1.8"/>
</svg>
</body></html>
